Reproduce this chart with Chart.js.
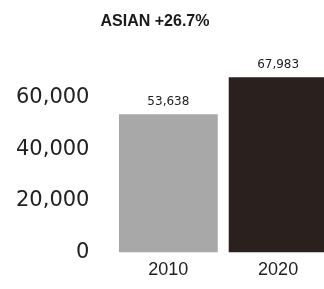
<!DOCTYPE html>
<html>
<head>
<meta charset="utf-8">
<script src="https://cdn.jsdelivr.net/npm/chart.js@4/dist/chart.umd.min.js"></script>
<style>
  html, body { margin: 0; padding: 0; background: #fff; overflow: hidden; }
  #wrap { position: relative; width: 334px; height: 289px; }
</style>
</head>
<body>
<div id="wrap"><canvas id="barchart"></canvas></div>
<script>
const titleText = 'ASIAN +26.7%';
const years = ['2010', '2020'];
const population = [53638, 67983];
const barColors = ['#a8a8a8', '#2a201d'];
const yTicks = [0, 20000, 40000, 60000];

// title drawn over the whole picture, not just the chart area
const titlePlugin = {
    id: 'titleText',
    afterDraw(chart) {
        const c = chart.ctx;
        c.save();
        c.font = 'bold 16px "Liberation Sans", Arial, sans-serif';
        c.fillStyle = '#1a1a1a';
        c.textAlign = 'center';
        c.textBaseline = 'middle';
        c.fillText(titleText, 155, 22);
        c.restore();
    }
};

const valueLabels = {
    id: 'valueLabels',
    afterDatasetsDraw(chart) {
        const c = chart.ctx;
        const meta = chart.getDatasetMeta(0);
        c.save();
        c.font = '12px "DejaVu Sans", sans-serif';
        c.fillStyle = '#222';
        c.textAlign = 'center';
        c.textBaseline = 'bottom';
        meta.data.forEach((bar, i) => {
            c.fillText(population[i].toLocaleString('en-US'), bar.x, bar.y - 6);
        });
        c.restore();
    }
};

const ctx = document.getElementById('barchart').getContext('2d');
const barchart = new Chart(ctx, {
    type: 'bar',
    data: {
        labels: years,
        datasets: [{
            data: population,
            backgroundColor: barColors,
            borderWidth: 0,
            categoryPercentage: 1,
            barPercentage: 0.9
        }]
    },
    options: {
        responsive: true,
        maintainAspectRatio: false,
        animation: false,
        layout: {
            padding: { top: 72, left: -8, right: 1, bottom: -2 }
        },
        plugins: {
            legend: { display: false },
            tooltip: { enabled: false }
        },
        scales: {
            x: {
                grid: { display: false, drawTicks: false },
                border: { display: false },
                ticks: {
                    padding: 7,
                    color: '#222',
                    font: { family: '"Liberation Sans", Arial, sans-serif', size: 18 }
                }
            },
            y: {
                min: 0,
                max: 70000,
                grid: { display: false, drawTicks: false },
                border: { display: false },
                afterBuildTicks: axis => {
                    axis.ticks = yTicks.map(v => ({ value: v }));
                },
                ticks: {
                    padding: 24,
                    color: '#222',
                    font: { family: '"DejaVu Sans", sans-serif', size: 21 },
                    callback: v => v.toLocaleString('en-US')
                }
            }
        }
    },
    plugins: [titlePlugin, valueLabels]
});
</script>
</body>
</html>
